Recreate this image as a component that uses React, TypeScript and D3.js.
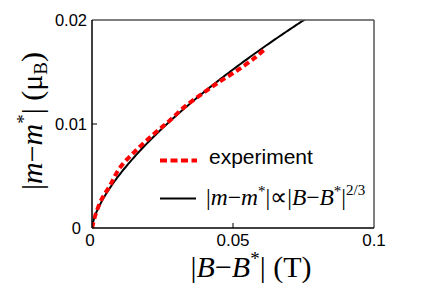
import React from "react";
import * as d3 from "d3";

const expX = [0, 0.0012, 0.0033, 0.0064, 0.0099, 0.0154, 0.0213, 0.027, 0.0326, 0.039, 0.0451, 0.0518, 0.0579, 0.0613];
const expY = [0, 0.00125, 0.0027, 0.0041, 0.0058, 0.0074, 0.0089, 0.0102, 0.0116, 0.0129, 0.01405, 0.0152, 0.0164, 0.0172];
const fitCoef = 0.1123;
const fitExp = 2 / 3;
const xTicks = [0, 0.05, 0.1];
const xTickLabels = ["0", "0.05", "0.1"];
const yTicks = [0, 0.01, 0.02];
const yTickLabels = ["0", "0.01", "0.02"];

const W = 436, H = 288;
const L = 92, R = 374, T = 20, B = 228;

export default function App() {
  const x = d3.scaleLinear().domain([0, 0.1]).range([L, R]);
  const y = d3.scaleLinear().domain([0, 0.02]).range([B, T]);

  const fitXs = d3.range(0, 0.1 + 1e-9, 0.0005);
  const fitLine = d3
    .line<number>()
    .x((d) => x(d))
    .y((d) => y(fitCoef * Math.pow(d, fitExp)))(fitXs) as string;

  const expLine = d3
    .line<number>()
    .x((d) => x(expX[d]))
    .y((d) => y(expY[d]))
    .curve(d3.curveCatmullRom.alpha(0.5))(expX.map((_, i) => i)) as string;

  const sans = "'Liberation Sans', Arial, sans-serif";
  const serif = "'Liberation Serif', 'Times New Roman', serif";

  return (
    <svg width={W} height={H} style={{ position: "absolute", left: 0, top: 0, background: "#fff" }}>
      <defs>
        <clipPath id="plotclip">
          <rect x={L} y={T} width={R - L} height={B - T} />
        </clipPath>
      </defs>
      <g clipPath="url(#plotclip)">
        <path d={fitLine} fill="none" stroke="#000" strokeWidth={2} />
        <path d={expLine} fill="none" stroke="#ff0000" strokeWidth={4} strokeDasharray="6,3.5" />
      </g>
      {/* frame */}
      <line x1={L} x2={R} y1={T} y2={T} stroke="#555" strokeWidth={1.5} />
      <line x1={R} x2={R} y1={T} y2={B} stroke="#555" strokeWidth={1.5} />
      <line x1={L} x2={L} y1={T} y2={B} stroke="#000" strokeWidth={1.5} />
      <line x1={L} x2={R} y1={B} y2={B} stroke="#000" strokeWidth={1.5} />
      {/* ticks */}
      {xTicks.map((t, i) => (
        <g key={"xt" + i}>
          {i > 0 && i < xTicks.length - 1 && (
            <line x1={x(t)} x2={x(t)} y1={B} y2={B - 5} stroke="#000" strokeWidth={1} />
          )}
          <text x={x(t) - (i === 0 ? 2 : 0)} y={B + 18} fontSize={17} fontFamily={sans} textAnchor="middle" fill="#000">
            {xTickLabels[i]}
          </text>
        </g>
      ))}
      {yTicks.map((t, i) => (
        <g key={"yt" + i}>
          {i > 0 && i < yTicks.length - 1 && (
            <line x1={L} x2={L + 5} y1={y(t)} y2={y(t)} stroke="#000" strokeWidth={1} />
          )}
          <text x={i === 0 ? 81 : 87} y={y(t) + 6} fontSize={16.5} fontFamily={sans} textAnchor="end" fill="#000">
            {yTickLabels[i]}
          </text>
        </g>
      ))}
      {/* axis labels */}
      <text x={251} y={277} fontSize={30} fontFamily={serif} textAnchor="middle" fill="#000">
        |<tspan fontStyle="italic">B</tspan>−<tspan fontStyle="italic">B</tspan>
        <tspan fontSize={19} dy={-12}>*</tspan>
        <tspan dy={12}>| (T)</tspan>
      </text>
      <text transform="translate(42,121) rotate(-90)" fontSize={30} fontFamily={serif} textAnchor="middle" fill="#000">
        |<tspan fontStyle="italic">m</tspan>−<tspan fontStyle="italic">m</tspan>
        <tspan fontSize={19} dy={-12}>*</tspan>
        <tspan dy={12}>| (μ</tspan>
        <tspan fontSize={19} dy={5}>B</tspan>
        <tspan dy={-5}>)</tspan>
      </text>
      {/* legend */}
      <line x1={160} x2={197} y1={160.5} y2={160.5} stroke="#ff0000" strokeWidth={4} strokeDasharray="7,3.5" />
      <text x={209} y={164} fontSize={21} fontFamily={sans} fill="#000">experiment</text>
      <line x1={160} x2={196} y1={198.5} y2={198.5} stroke="#000" strokeWidth={2} />
      <text x={206} y={205} fontSize={23.5} fontFamily={serif} fill="#000">
        |<tspan fontStyle="italic">m</tspan>−<tspan fontStyle="italic">m</tspan>
        <tspan fontSize={15} dy={-9}>*</tspan>
        <tspan dy={9}>|∝|</tspan>
        <tspan fontStyle="italic">B</tspan>−<tspan fontStyle="italic">B</tspan>
        <tspan fontSize={15} dy={-9}>*</tspan>
        <tspan dy={9}>|</tspan>
        <tspan fontSize={15} dy={-10}>2/3</tspan>
      </text>
    </svg>
  );
}
